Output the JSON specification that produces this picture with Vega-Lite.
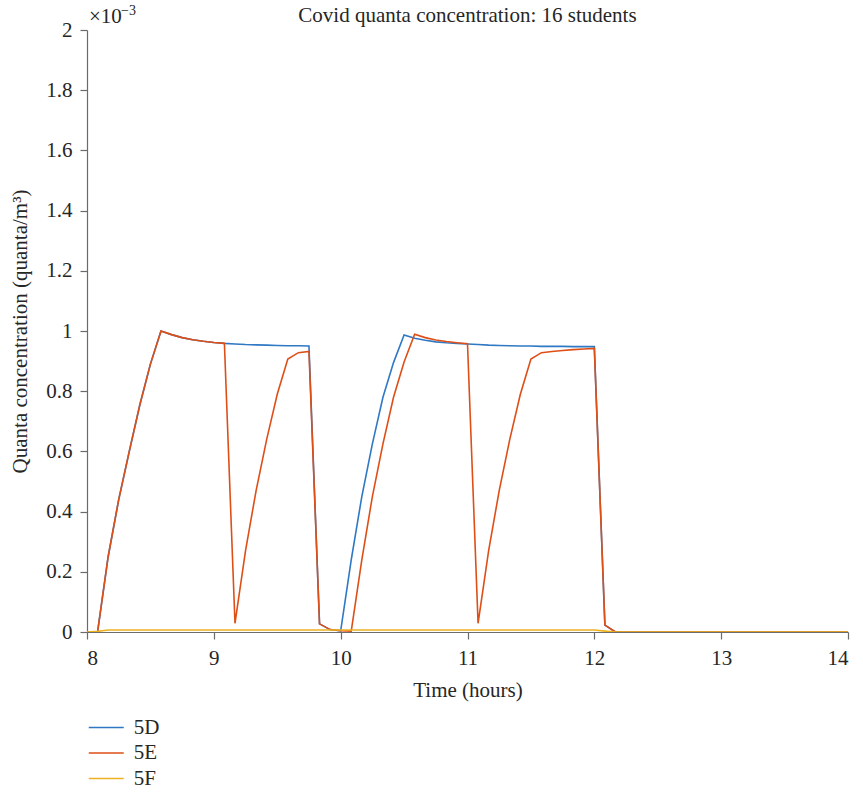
{
  "$schema": "https://vega.github.io/schema/vega-lite/v6.json",
  "width": 761,
  "height": 602,
  "autosize": {"type": "none"},
  "padding": {"left": 87, "top": 30, "right": 15, "bottom": 160},
  "background": "white",
  "title": {
    "text": "Covid quanta concentration: 16 students",
    "font": "Liberation Serif",
    "fontSize": 21,
    "fontWeight": "normal",
    "color": "#262626",
    "offset": -22
  },
  "config": {
    "view": {"stroke": null},
    "axis": {
      "grid": false,
      "domainColor": "#6b6b6b",
      "tickColor": "#6b6b6b",
      "domainWidth": 1.2,
      "tickWidth": 1.2,
      "tickSize": 7,
      "labelFont": "Liberation Serif",
      "labelFontSize": 21,
      "labelColor": "#262626",
      "titleFont": "Liberation Serif",
      "titleFontSize": 21,
      "titleFontWeight": "normal",
      "titleColor": "#262626"
    },
    "legend": {
      "labelFont": "Liberation Serif",
      "labelFontSize": 21,
      "labelColor": "#262626"
    }
  },
  "datasets": {
    "quanta": [
      {"t": 8, "v": 0, "room": "5D"},
      {"t": 8.0833, "v": 0, "room": "5D"},
      {"t": 8.1667, "v": 0.00025, "room": "5D"},
      {"t": 8.25, "v": 0.00044, "room": "5D"},
      {"t": 8.3333, "v": 0.0006, "room": "5D"},
      {"t": 8.4167, "v": 0.000755, "room": "5D"},
      {"t": 8.5, "v": 0.00089, "room": "5D"},
      {"t": 8.5833, "v": 0.001, "room": "5D"},
      {"t": 8.6667, "v": 0.000988, "room": "5D"},
      {"t": 8.75, "v": 0.000978, "room": "5D"},
      {"t": 8.8333, "v": 0.000971, "room": "5D"},
      {"t": 8.9167, "v": 0.000966, "room": "5D"},
      {"t": 9, "v": 0.000962, "room": "5D"},
      {"t": 9.0833, "v": 0.000959, "room": "5D"},
      {"t": 9.1667, "v": 0.000957, "room": "5D"},
      {"t": 9.25, "v": 0.000955, "room": "5D"},
      {"t": 9.3333, "v": 0.000954, "room": "5D"},
      {"t": 9.4167, "v": 0.000953, "room": "5D"},
      {"t": 9.5, "v": 0.000952, "room": "5D"},
      {"t": 9.5833, "v": 0.000951, "room": "5D"},
      {"t": 9.6667, "v": 0.000951, "room": "5D"},
      {"t": 9.75, "v": 0.00095, "room": "5D"},
      {"t": 9.8333, "v": 0.000027, "room": "5D"},
      {"t": 9.9167, "v": 0.000008, "room": "5D"},
      {"t": 10, "v": 0.000004, "room": "5D"},
      {"t": 10.0833, "v": 0.00024, "room": "5D"},
      {"t": 10.1667, "v": 0.00045, "room": "5D"},
      {"t": 10.25, "v": 0.000625, "room": "5D"},
      {"t": 10.3333, "v": 0.00078, "room": "5D"},
      {"t": 10.4167, "v": 0.000895, "room": "5D"},
      {"t": 10.5, "v": 0.000987, "room": "5D"},
      {"t": 10.5833, "v": 0.000976, "room": "5D"},
      {"t": 10.6667, "v": 0.000969, "room": "5D"},
      {"t": 10.75, "v": 0.000964, "room": "5D"},
      {"t": 10.8333, "v": 0.000961, "room": "5D"},
      {"t": 10.9167, "v": 0.000959, "room": "5D"},
      {"t": 11, "v": 0.000957, "room": "5D"},
      {"t": 11.0833, "v": 0.000955, "room": "5D"},
      {"t": 11.1667, "v": 0.000953, "room": "5D"},
      {"t": 11.25, "v": 0.000952, "room": "5D"},
      {"t": 11.3333, "v": 0.000951, "room": "5D"},
      {"t": 11.4167, "v": 0.00095, "room": "5D"},
      {"t": 11.5, "v": 0.00095, "room": "5D"},
      {"t": 11.5833, "v": 0.000949, "room": "5D"},
      {"t": 11.6667, "v": 0.000949, "room": "5D"},
      {"t": 11.75, "v": 0.000949, "room": "5D"},
      {"t": 11.8333, "v": 0.000948, "room": "5D"},
      {"t": 11.9167, "v": 0.000948, "room": "5D"},
      {"t": 12, "v": 0.000948, "room": "5D"},
      {"t": 12.0833, "v": 0.000023, "room": "5D"},
      {"t": 12.1667, "v": 0, "room": "5D"},
      {"t": 14, "v": 0, "room": "5D"},

      {"t": 8, "v": 0, "room": "5E"},
      {"t": 8.0833, "v": 0, "room": "5E"},
      {"t": 8.1667, "v": 0.00025, "room": "5E"},
      {"t": 8.25, "v": 0.00044, "room": "5E"},
      {"t": 8.3333, "v": 0.0006, "room": "5E"},
      {"t": 8.4167, "v": 0.000755, "room": "5E"},
      {"t": 8.5, "v": 0.00089, "room": "5E"},
      {"t": 8.5833, "v": 0.001, "room": "5E"},
      {"t": 8.6667, "v": 0.000988, "room": "5E"},
      {"t": 8.75, "v": 0.000978, "room": "5E"},
      {"t": 8.8333, "v": 0.000971, "room": "5E"},
      {"t": 8.9167, "v": 0.000966, "room": "5E"},
      {"t": 9, "v": 0.000962, "room": "5E"},
      {"t": 9.0833, "v": 0.000959, "room": "5E"},
      {"t": 9.1667, "v": 0.000029, "room": "5E"},
      {"t": 9.25, "v": 0.00027, "room": "5E"},
      {"t": 9.3333, "v": 0.00047, "room": "5E"},
      {"t": 9.4167, "v": 0.00064, "room": "5E"},
      {"t": 9.5, "v": 0.00079, "room": "5E"},
      {"t": 9.5833, "v": 0.000907, "room": "5E"},
      {"t": 9.6667, "v": 0.000928, "room": "5E"},
      {"t": 9.75, "v": 0.000932, "room": "5E"},
      {"t": 9.8333, "v": 0.000027, "room": "5E"},
      {"t": 9.9167, "v": 0.000008, "room": "5E"},
      {"t": 10, "v": 0.000004, "room": "5E"},
      {"t": 10.0833, "v": 0.000003, "room": "5E"},
      {"t": 10.1667, "v": 0.00024, "room": "5E"},
      {"t": 10.25, "v": 0.00045, "room": "5E"},
      {"t": 10.3333, "v": 0.000625, "room": "5E"},
      {"t": 10.4167, "v": 0.00078, "room": "5E"},
      {"t": 10.5, "v": 0.000897, "room": "5E"},
      {"t": 10.5833, "v": 0.000989, "room": "5E"},
      {"t": 10.6667, "v": 0.000978, "room": "5E"},
      {"t": 10.75, "v": 0.00097, "room": "5E"},
      {"t": 10.8333, "v": 0.000965, "room": "5E"},
      {"t": 10.9167, "v": 0.000961, "room": "5E"},
      {"t": 11, "v": 0.000958, "room": "5E"},
      {"t": 11.0833, "v": 0.000029, "room": "5E"},
      {"t": 11.1667, "v": 0.00027, "room": "5E"},
      {"t": 11.25, "v": 0.00047, "room": "5E"},
      {"t": 11.3333, "v": 0.00064, "room": "5E"},
      {"t": 11.4167, "v": 0.00079, "room": "5E"},
      {"t": 11.5, "v": 0.000907, "room": "5E"},
      {"t": 11.5833, "v": 0.000928, "room": "5E"},
      {"t": 11.6667, "v": 0.000932, "room": "5E"},
      {"t": 11.75, "v": 0.000935, "room": "5E"},
      {"t": 11.8333, "v": 0.000938, "room": "5E"},
      {"t": 11.9167, "v": 0.00094, "room": "5E"},
      {"t": 12, "v": 0.000942, "room": "5E"},
      {"t": 12.0833, "v": 0.000023, "room": "5E"},
      {"t": 12.1667, "v": 0, "room": "5E"},
      {"t": 14, "v": 0, "room": "5E"},

      {"t": 8, "v": 0, "room": "5F"},
      {"t": 8.0833, "v": 0.000002, "room": "5F"},
      {"t": 8.1667, "v": 0.0000066, "room": "5F"},
      {"t": 12, "v": 0.0000066, "room": "5F"},
      {"t": 12.0833, "v": 0.000003, "room": "5F"},
      {"t": 12.1667, "v": 0, "room": "5F"},
      {"t": 14, "v": 0, "room": "5F"}
    ]
  },
  "layer": [
    {
      "data": {"name": "quanta"},
      "mark": {"type": "line", "strokeWidth": 1.6, "clip": true},
      "encoding": {
        "x": {
          "field": "t",
          "type": "quantitative",
          "scale": {"domain": [8, 14], "nice": false, "zero": false},
          "axis": {
            "title": "Time (hours)",
            "values": [8, 9, 10, 11, 12, 13, 14],
            "format": "d",
            "labelPadding": 8,
            "titlePadding": 11
          }
        },
        "y": {
          "field": "v",
          "type": "quantitative",
          "scale": {"domain": [0, 0.002], "nice": false},
          "axis": {
            "title": "Quanta concentration (quanta/m³)",
            "values": [0, 0.0002, 0.0004, 0.0006, 0.0008, 0.001, 0.0012, 0.0014, 0.0016, 0.0018, 0.002],
            "labelExpr": "format(datum.value * 1000, '.1~f')",
            "labelPadding": 8,
            "titlePadding": 15
          }
        },
        "color": {
          "field": "room",
          "type": "nominal",
          "scale": {"domain": ["5D", "5E", "5F"], "range": ["#2f78c4", "#de4f17", "#edb120"]},
          "legend": {
            "title": null,
            "orient": "none",
            "legendX": 8.75,
            "legendY": 687,
            "symbolType": "M-2,0H2",
            "symbolSize": 306,
            "symbolStrokeWidth": 1.6,
            "labelOffset": 17,
            "rowPadding": 3.5
          }
        },
        "order": {"field": "t", "type": "quantitative"}
      }
    },
    {
      "data": {"values": [{}]},
      "mark": {
        "type": "text",
        "text": "×10",
        "font": "Liberation Serif",
        "fontSize": 21,
        "color": "#262626",
        "align": "left",
        "baseline": "alphabetic",
        "dx": 2,
        "dy": -7
      },
      "encoding": {
        "x": {"datum": 8, "type": "quantitative"},
        "y": {"datum": 0.002, "type": "quantitative"}
      }
    },
    {
      "data": {"values": [{}]},
      "mark": {
        "type": "text",
        "text": "−3",
        "font": "Liberation Serif",
        "fontSize": 14,
        "color": "#262626",
        "align": "left",
        "baseline": "alphabetic",
        "dx": 34,
        "dy": -15
      },
      "encoding": {
        "x": {"datum": 8, "type": "quantitative"},
        "y": {"datum": 0.002, "type": "quantitative"}
      }
    }
  ]
}
